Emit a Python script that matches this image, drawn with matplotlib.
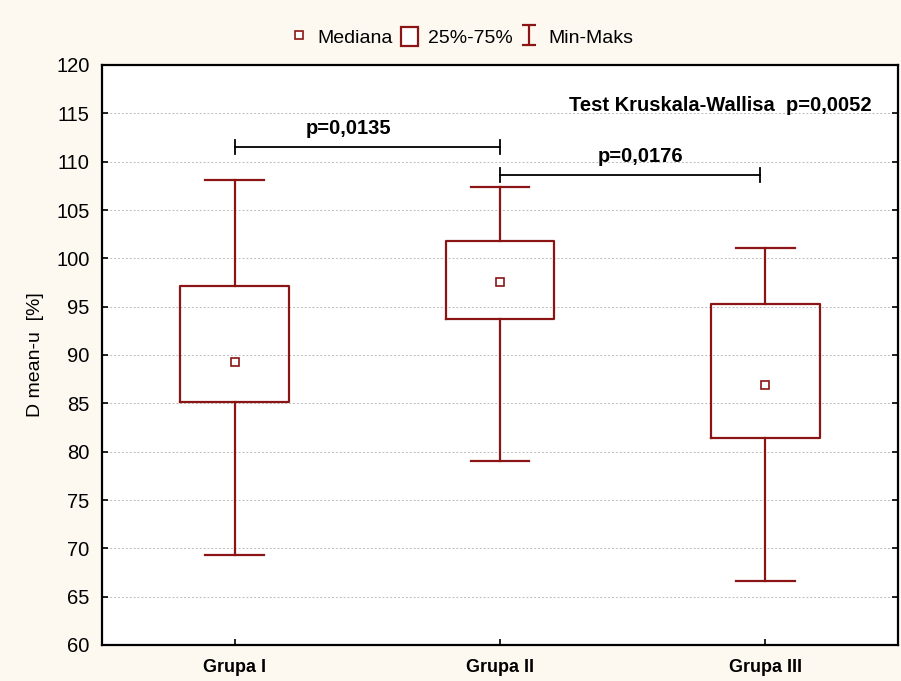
import numpy as np
import matplotlib
matplotlib.use('Agg')
from matplotlib import pyplot as plt
from matplotlib.patches import Rectangle
from matplotlib import font_manager

# box stats
groups = ['Grupa I', 'Grupa II', 'Grupa III']
mins = [69.3, 79.0, 66.6]
q1s = [85.1, 93.7, 81.4]
medians = [89.3, 97.6, 86.9]
q3s = [97.1, 101.8, 95.3]
maxs = [108.1, 107.4, 101.1]

# pairwise test brackets
pair_from = [0, 1]
pair_to = [1, 1.98]
pair_y = [111.5, 108.6]
pair_text_x = [0.43, 1.53]
pair_labels = ['p=0,0135', 'p=0,0176']
kw_label = 'Test Kruskala-Wallisa  p=0,0052'

RED = '#8B1414'
BG = '#FDF9F0'

plt.rcParams['font.family'] = ['Liberation Sans', 'DejaVu Sans']

# narrow bold font for group names if there is one
names = set(f.name for f in font_manager.fontManager.ttflist)
if 'Liberation Sans Narrow' in names:
    xfam, xsize = ['Liberation Sans Narrow', 'DejaVu Sans'], 14
else:
    xfam, xsize = ['Liberation Sans', 'DejaVu Sans'], 13

fig = plt.figure(figsize=(9.01, 6.81), dpi=100, facecolor=BG)
ax = fig.add_axes([102/901, 36/681, 796/901, 580/681])

stats = []
for i in range(len(groups)):
    stats.append({'med': medians[i], 'q1': q1s[i], 'q3': q3s[i],
                  'whislo': mins[i], 'whishi': maxs[i], 'fliers': [], 'label': groups[i]})

pos = np.arange(len(groups))
ax.bxp(stats, positions=pos, widths=0.41, capwidths=0.22, showfliers=False,
       boxprops=dict(color=RED, linewidth=1.6),
       whiskerprops=dict(color=RED, linewidth=1.6),
       capprops=dict(color=RED, linewidth=1.6),
       medianprops=dict(linestyle='none'))
ax.plot(pos, medians, linestyle='none', marker='s', markersize=6,
        markerfacecolor='white', markeredgecolor=RED, markeredgewidth=1.2, zorder=5)

# legend handles
ax.plot([np.nan], [np.nan], linestyle='none', marker='s', markersize=6,
        markerfacecolor='white', markeredgecolor=RED, markeredgewidth=1.2, label='Mediana')
ax.add_patch(Rectangle((np.nan, np.nan), 0, 0, facecolor='white', edgecolor=RED,
                       linewidth=1.6, label='25%-75%'))
ax.errorbar([np.nan], [np.nan], yerr=[1], fmt='none', ecolor=RED, capsize=5,
            elinewidth=1.6, capthick=1.6, label='Min-Maks')

for a, b, y, tx, lab in zip(pair_from, pair_to, pair_y, pair_text_x, pair_labels):
    ax.plot([a, b], [y, y], color='black', linewidth=1.3)
    ax.plot([a, a], [y - 0.7, y + 0.7], color='black', linewidth=1.3)
    ax.plot([b, b], [y - 0.7, y + 0.7], color='black', linewidth=1.3)
    ax.text(tx, y + 0.9, lab, ha='center', va='bottom', fontsize=14.5, fontweight='bold')

ax.text(2.40, 115.8, kw_label, ha='right', va='center', fontsize=14.5, fontweight='bold')

ax.set_xlim(-0.5, 2.5)
ax.set_ylim(60, 120)
ax.set_yticks(np.arange(60, 121, 5))
ax.set_xticks(pos)
ax.set_xticklabels(groups, fontsize=xsize, fontweight='bold', family=xfam)
ax.tick_params(axis='y', labelsize=14.5, direction='in', right=True, length=4, width=1.2, pad=9)
ax.tick_params(axis='x', direction='in', length=4, width=1.2, pad=10)
ax.yaxis.grid(True, linestyle=(0, (2, 2)), color='#BBBBBB', linewidth=0.7)
ax.set_axisbelow(True)
for s in ax.spines.values():
    s.set_linewidth(1.6)
ax.set_ylabel('D mean-u  [%]', fontsize=14, labelpad=9)

ax.legend(loc='center', bbox_to_anchor=(0.452, 1.0 + 28/580), ncol=3, frameon=False,
          fontsize=14, handlelength=0.9, handleheight=1.1, handletextpad=0.5,
          columnspacing=0.4, borderaxespad=0.0, borderpad=0.0)

fig.savefig('out.png', dpi=100, facecolor=BG)
